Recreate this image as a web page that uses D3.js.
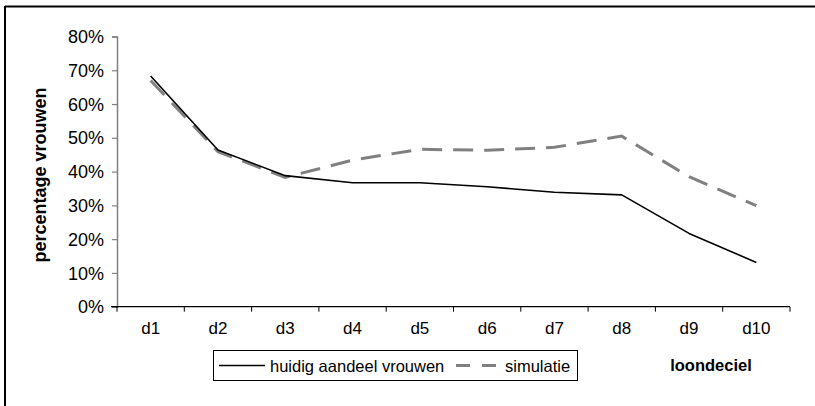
<!DOCTYPE html>
<html><head>
<meta charset="utf-8">
<script src="https://d3js.org/d3.v7.min.js"></script>
<style>
  body { margin: 0; background: #fff; }
  svg text { font-family: "Liberation Sans", Arial, sans-serif; }
</style>
</head>
<body>
<svg id="chart" width="815" height="406"></svg>
<script>
// deciles and the two series (percent women)
const deciles = ["d1","d2","d3","d4","d5","d6","d7","d8","d9","d10"];
const huidig = [68.3, 46.4, 38.8, 36.7, 36.7, 35.5, 33.9, 33.1, 21.7, 13.1];
const simulatie = [67.0, 45.9, 38.3, 43.4, 46.6, 46.3, 47.2, 50.5, 38.5, 29.9];
const yTicks = [0,10,20,30,40,50,60,70,80];

const svg = d3.select("#chart");
const fs = 16.5;

// outer frame (only top + left visible)
svg.append("line").attr("x1",5).attr("x2",815).attr("y1",6.5).attr("y2",6.5)
   .attr("stroke","#000").attr("stroke-width",2);
svg.append("line").attr("x1",5).attr("x2",5).attr("y1",6).attr("y2",406)
   .attr("stroke","#000").attr("stroke-width",2);

const plotLeft = 117, plotRight = 790, plotTop = 36.5, plotBottom = 306.7;

let x = d3.scaleBand().domain(deciles).range([plotLeft, plotRight]);
let y = d3.scaleLinear().domain([0, 80]).range([plotBottom, plotTop]);

// y axis (gray)
let yAxis = svg.append("g").attr("transform", `translate(${plotLeft},0)`)
  .call(d3.axisLeft(y).tickValues(yTicks).tickFormat(d => d + "%").tickSizeOuter(0).tickSize(5).tickPadding(8));
yAxis.attr("font-size", 18).attr("font-family","'Liberation Sans', Arial, sans-serif");
yAxis.select(".domain").attr("stroke","#808080").attr("stroke-width",1.5);
yAxis.selectAll(".tick line").attr("stroke","#808080").attr("stroke-width",1.2);
yAxis.selectAll("text").attr("fill","#000").attr("dy","0.34em");

// x axis (black) with ticks at band edges
let xAxis = svg.append("g").attr("transform", `translate(0,${plotBottom})`);
xAxis.append("line").attr("x1",plotLeft - 6).attr("x2",plotRight).attr("y1",0).attr("y2",0)
     .attr("stroke","#000").attr("stroke-width",1.2);
let edges = deciles.map(d => x(d)).concat([plotRight]);
xAxis.selectAll("line.tk").data(edges).join("line").attr("class","tk")
     .attr("x1", d => d).attr("x2", d => d).attr("y1",0).attr("y2",5)
     .attr("stroke","#000").attr("stroke-width",1);
xAxis.selectAll("text").data(deciles).join("text")
     .attr("x", d => x(d) + x.bandwidth()/2).attr("y", 27)
     .attr("text-anchor","middle").attr("font-size",17).text(d => d);

// lines
let lineGen = d3.line().x((d,i) => x(deciles[i]) + x.bandwidth()/2).y(d => y(d));

svg.append("path").datum(simulatie).attr("d", lineGen)
   .attr("fill","none").attr("stroke","#808080").attr("stroke-width",3)
   .attr("stroke-dasharray","20,11");
svg.append("path").datum(huidig).attr("d", lineGen)
   .attr("fill","none").attr("stroke","#000").attr("stroke-width",1.6)
   .attr("stroke-linejoin","round");

// axis titles
svg.append("text").attr("transform","translate(46,175) rotate(-90)")
   .attr("text-anchor","middle").attr("font-size",18).attr("font-weight","bold")
   .text("percentage vrouwen");
svg.append("text").attr("x",711).attr("y",371).attr("text-anchor","middle")
   .attr("font-size",fs).attr("font-weight","bold").text("loondeciel");

// legend
let lg = svg.append("g");
lg.append("rect").attr("x",213.5).attr("y",350.5).attr("width",364).attr("height",30)
  .attr("fill","#fff").attr("stroke","#000").attr("stroke-width",1);
lg.append("line").attr("x1",219).attr("x2",265).attr("y1",365.5).attr("y2",365.5)
  .attr("stroke","#000").attr("stroke-width",1.6);
lg.append("text").attr("x",270).attr("y",371.5).attr("font-size",fs).text("huidig aandeel vrouwen");
lg.append("line").attr("x1",456).attr("x2",496).attr("y1",365.5).attr("y2",365.5)
  .attr("stroke","#808080").attr("stroke-width",3).attr("stroke-dasharray","14,12");
lg.append("text").attr("x",505).attr("y",371.5).attr("font-size",fs).text("simulatie");
</script>
</body>
</html>
